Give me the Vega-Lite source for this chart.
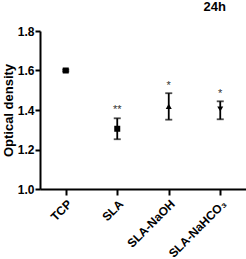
{
  "$schema": "https://vega.github.io/schema/vega-lite/v6.json",
  "autosize": "none",
  "width": 206,
  "height": 158,
  "padding": {"left": 40, "top": 31, "right": 0, "bottom": 70},
  "background": "white",
  "config": {
    "view": {"stroke": null},
    "font": "Liberation Sans",
    "axis": {"grid": false, "domainColor": "black", "tickColor": "black", "domainWidth": 2, "tickWidth": 2, "labelColor": "black", "titleColor": "black", "labelFontWeight": "bold", "labelFontSize": 12, "titleFontWeight": "bold", "labelOverlap": false},
    "axisY": {"title": "Optical density", "values": [1.0, 1.2, 1.4, 1.6, 1.8], "format": ".1f", "tickSize": 5, "labelPadding": 1, "titleFontSize": 13, "titlePadding": 2}
  },
  "title": {"text": "24h", "anchor": "end", "fontSize": 13, "fontWeight": "bold", "color": "black", "offset": 11, "dx": -20},
  "data": {"values": [
    {"group": "TCP", "mean": 1.6, "lo": 1.595, "hi": 1.605, "shape": "square", "sig": "", "sigy": 1.62},
    {"group": "SLA", "mean": 1.305, "lo": 1.252, "hi": 1.358, "shape": "square", "sig": "**", "sigy": 1.4},
    {"group": "SLA-NaOH", "mean": 1.418, "lo": 1.351, "hi": 1.485, "shape": "triangle-up", "sig": "*", "sigy": 1.52},
    {"group": "SLA-NaHCO₃", "mean": 1.405, "lo": 1.353, "hi": 1.444, "shape": "triangle-down", "sig": "*", "sigy": 1.48}
  ]},
  "encoding": {
    "x": {"field": "group", "type": "nominal", "sort": null, "scale": {"type": "point", "padding": 0.5},
      "axis": {"title": null, "labelAngle": -45, "labelAlign": "right", "labelBaseline": "top", "tickSize": 6, "labelPadding": 3, "labelFontSize": 12}}
  },
  "layer": [
    {"mark": {"type": "rule", "color": "black", "strokeWidth": 1.8},
     "encoding": {"y": {"field": "lo", "type": "quantitative", "scale": {"domain": [1.0, 1.8]}, "title": "Optical density"},
       "y2": {"field": "hi"}}},
    {"mark": {"type": "tick", "color": "black", "size": 7, "thickness": 1.8, "orient": "horizontal"},
     "encoding": {"y": {"field": "lo", "type": "quantitative", "title": "Optical density"}}},
    {"mark": {"type": "tick", "color": "black", "size": 7, "thickness": 1.8, "orient": "horizontal"},
     "encoding": {"y": {"field": "hi", "type": "quantitative", "title": "Optical density"}}},
    {"mark": {"type": "point", "filled": true, "color": "black", "opacity": 1, "size": 36},
     "encoding": {"y": {"field": "mean", "type": "quantitative", "title": "Optical density"},
       "shape": {"field": "shape", "type": "nominal", "scale": null}}},
    {"mark": {"type": "text", "color": "#333", "fontSize": 11, "baseline": "middle"},
     "encoding": {"y": {"field": "sigy", "type": "quantitative", "title": "Optical density"}, "text": {"field": "sig"}}}
  ]
}
